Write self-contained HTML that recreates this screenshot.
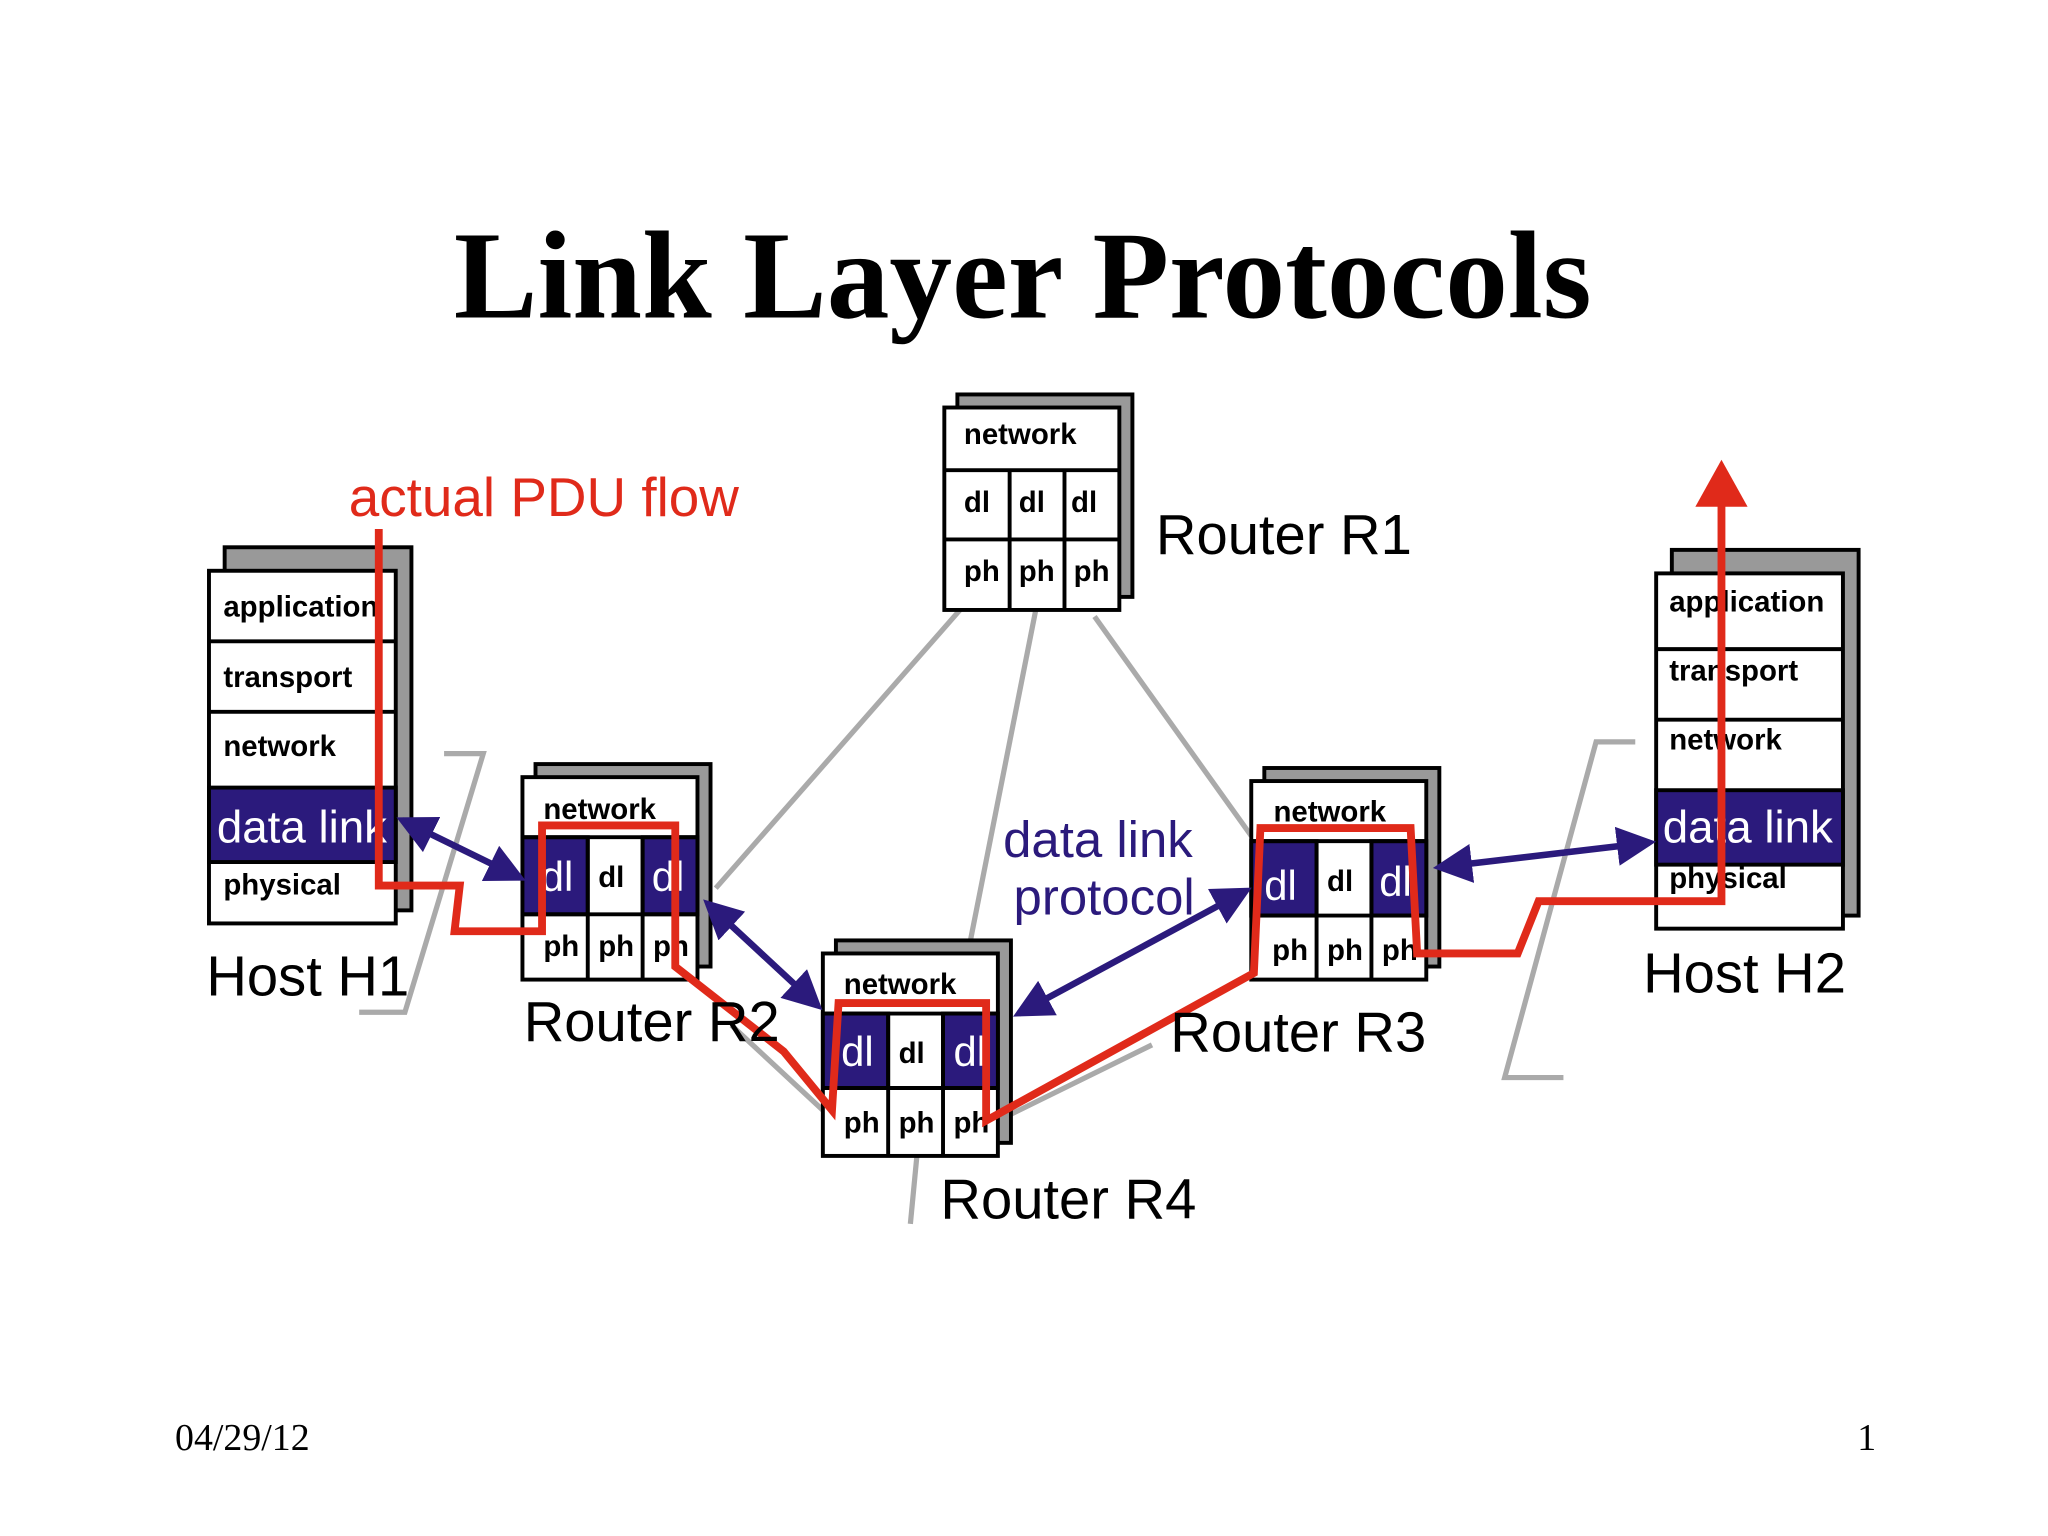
<!DOCTYPE html>
<html><head><meta charset="utf-8"><style>
html,body{margin:0;padding:0;background:#fff;}
svg{display:block;}
.s{font-family:"Liberation Sans",sans-serif;}
.b{font-family:"Liberation Sans",sans-serif;font-weight:bold;font-size:22.5px;fill:#000;}
</style></head><body>
<svg width="2048" height="1536" viewBox="0 0 1568 1176" xmlns="http://www.w3.org/2000/svg">
<rect width="1568" height="1176" fill="#fff"/>
<text x="783" y="243" text-anchor="middle" font-family="Liberation Serif,serif" font-weight="bold" font-size="96">Link Layer Protocols</text>

<g stroke="#aaa" stroke-width="4" fill="none">
<line x1="735" y1="467" x2="548" y2="680"/>
<line x1="793" y1="467" x2="742" y2="725"/>
<line x1="838" y1="472" x2="958" y2="640"/>
<line x1="560" y1="785" x2="630" y2="850"/>
<line x1="764" y1="858" x2="882" y2="800"/>
<polyline points="340,577 370,577 310,775 275,775"/>
<polyline points="1252,568 1222,568 1152,825 1197,825"/>
<line x1="702" y1="885" x2="697" y2="937"/>
</g>

<rect x="172" y="419" width="143" height="278" fill="#999" stroke="#000" stroke-width="3"/>
<g stroke="#000" stroke-width="3">
<rect x="160" y="437" width="143" height="270" fill="#fff"/>
<rect x="160" y="603" width="143" height="57" fill="#2b1a7c"/>
<line x1="160" y1="491" x2="303" y2="491"/><line x1="160" y1="545" x2="303" y2="545"/>
</g>
<text class="b" x="171" y="472">application</text>
<text class="b" x="171" y="526">transport</text>
<text class="b" x="171" y="579">network</text>
<text class="s" x="166" y="645" font-size="35" fill="#fff">data link</text>
<text class="b" x="171" y="685">physical</text>

<rect x="1280" y="421" width="143" height="280" fill="#999" stroke="#000" stroke-width="3"/>
<g stroke="#000" stroke-width="3">
<rect x="1268" y="439" width="143" height="272" fill="#fff"/>
<rect x="1268" y="605" width="143" height="57" fill="#2b1a7c"/>
<line x1="1268" y1="497" x2="1411" y2="497"/><line x1="1268" y1="551" x2="1411" y2="551"/>
</g>
<text class="b" x="1278" y="468">application</text>
<text class="b" x="1278" y="521">transport</text>
<text class="b" x="1278" y="574">network</text>
<text class="s" x="1273" y="645" font-size="35" fill="#fff">data link</text>
<text class="b" x="1278" y="680">physical</text>

<rect x="733" y="302" width="134" height="155" fill="#999" stroke="#000" stroke-width="3"/>
<g stroke="#000" stroke-width="3" fill="#fff">
<rect x="723" y="312" width="134" height="155"/>
<line x1="723" y1="360" x2="857" y2="360"/><line x1="723" y1="413" x2="857" y2="413"/>
<line x1="773" y1="360" x2="773" y2="467"/><line x1="815" y1="360" x2="815" y2="467"/>
</g>
<text class="b" x="738" y="340">network</text>
<text class="b" x="738" y="392">dl</text><text class="b" x="780" y="392">dl</text><text class="b" x="820" y="392">dl</text>
<text class="b" x="738" y="445">ph</text><text class="b" x="780" y="445">ph</text><text class="b" x="822" y="445">ph</text>

<g transform="translate(400,595)">
<rect x="10" y="-10" width="134" height="155" fill="#999" stroke="#000" stroke-width="3"/>
<g stroke="#000" stroke-width="3">
<rect x="0" y="0" width="134" height="155" fill="#fff"/>
<rect x="0" y="46" width="50" height="59" fill="#2b1a7c"/>
<rect x="92" y="46" width="42" height="59" fill="#2b1a7c"/>
<line x1="0" y1="46" x2="134" y2="46"/><line x1="0" y1="105" x2="134" y2="105"/>
<line x1="50" y1="46" x2="50" y2="155"/><line x1="92" y1="46" x2="92" y2="155"/>
</g>
<text class="b" x="16" y="32">network</text>
<text class="s" x="14" y="87" font-size="32" fill="#fff">dl</text>
<text class="b" x="58" y="84">dl</text>
<text class="s" x="99" y="87" font-size="32" fill="#fff">dl</text>
<text class="b" x="16" y="137">ph</text><text class="b" x="58" y="137">ph</text><text class="b" x="100" y="137">ph</text>
</g>
<g transform="translate(630,730)">
<rect x="10" y="-10" width="134" height="155" fill="#999" stroke="#000" stroke-width="3"/>
<g stroke="#000" stroke-width="3">
<rect x="0" y="0" width="134" height="155" fill="#fff"/>
<rect x="0" y="46" width="50" height="57" fill="#2b1a7c"/>
<rect x="92" y="46" width="42" height="57" fill="#2b1a7c"/>
<line x1="0" y1="46" x2="134" y2="46"/><line x1="0" y1="103" x2="134" y2="103"/>
<line x1="50" y1="46" x2="50" y2="155"/><line x1="92" y1="46" x2="92" y2="155"/>
</g>
<text class="b" x="16" y="31">network</text>
<text class="s" x="14" y="86" font-size="32" fill="#fff">dl</text>
<text class="b" x="58" y="84">dl</text>
<text class="s" x="100" y="86" font-size="32" fill="#fff">dl</text>
<text class="b" x="16" y="137">ph</text><text class="b" x="58" y="137">ph</text><text class="b" x="100" y="137">ph</text>
</g>
<g transform="translate(958,598)">
<rect x="10" y="-10" width="134" height="152" fill="#999" stroke="#000" stroke-width="3"/>
<g stroke="#000" stroke-width="3">
<rect x="0" y="0" width="134" height="152" fill="#fff"/>
<rect x="0" y="46" width="50" height="57" fill="#2b1a7c"/>
<rect x="92" y="46" width="42" height="57" fill="#2b1a7c"/>
<line x1="0" y1="46" x2="134" y2="46"/><line x1="0" y1="103" x2="134" y2="103"/>
<line x1="50" y1="46" x2="50" y2="152"/><line x1="92" y1="46" x2="92" y2="152"/>
</g>
<text class="b" x="17" y="31">network</text>
<text class="s" x="10" y="91" font-size="32" fill="#fff">dl</text>
<text class="b" x="58" y="84">dl</text>
<text class="s" x="98" y="88" font-size="32" fill="#fff">dl</text>
<text class="b" x="16" y="137">ph</text><text class="b" x="58" y="137">ph</text><text class="b" x="100" y="137">ph</text>
</g>

<defs><marker id="a" markerWidth="6" markerHeight="6" refX="5" refY="3" orient="auto-start-reverse" markerUnits="strokeWidth">
<path d="M0,0 L6,3 L0,6 z" fill="#2b1a7c"/></marker></defs>
<g stroke="#2b1a7c" stroke-width="5" marker-start="url(#a)" marker-end="url(#a)">
<line x1="308" y1="628" x2="398" y2="672"/>
<line x1="542" y1="692" x2="626" y2="770"/>
<line x1="780" y1="776" x2="954" y2="682"/>
<line x1="1102" y1="664" x2="1263" y2="645"/>
</g>

<polyline fill="none" stroke="#e02a1a" stroke-width="6" stroke-linejoin="miter" points="290,405 290,678 352,678 348,713 415,713 415,632 517,632 517,740 600,805 637,850 642,768 755,768 755,858 960,745 965,634 1080,634 1085,730 1162,730 1178,690 1318,690 1318,385"/>
<polygon points="1298,388 1318,352 1338,388" fill="#e02a1a"/>

<g class="s" font-size="43" fill="#000">
<text x="885" y="424">Router R1</text>
<text x="158" y="762">Host H1</text>
<text x="401" y="797">Router R2</text>
<text x="896" y="805">Router R3</text>
<text x="720" y="933">Router R4</text>
<text x="1258" y="760">Host H2</text>
</g>
<text class="s" x="267" y="395" font-size="42" fill="#e02a1a">actual PDU flow</text>
<text class="s" x="768" y="656" font-size="39" fill="#2b1a7c">data link</text>
<text class="s" x="776" y="700" font-size="39" fill="#2b1a7c">protocol</text>
<text x="134" y="1110" font-family="Liberation Serif,serif" font-size="29">04/29/12</text>
<text x="1422" y="1110" font-family="Liberation Serif,serif" font-size="29">1</text>
</svg>
</body></html>
